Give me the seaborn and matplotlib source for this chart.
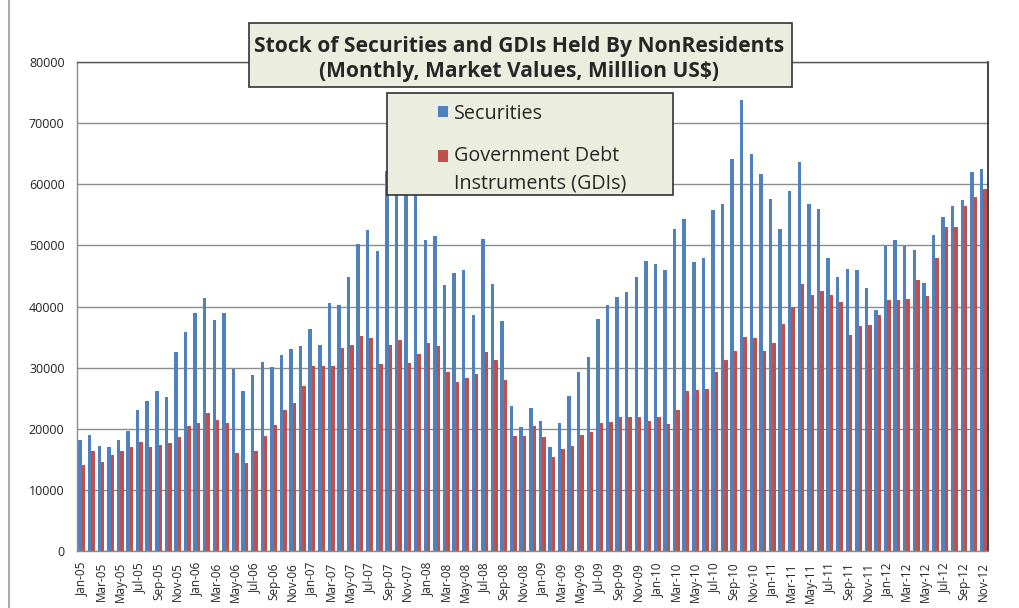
import numpy as np
import pandas as pd
import matplotlib
matplotlib.use("Agg")
import matplotlib.pyplot as plt
from matplotlib.patches import Rectangle
from matplotlib.lines import Line2D
from matplotlib.legend_handler import HandlerPatch
import seaborn as sns

# Month labels, Jan-05 .. Nov-12
months = pd.date_range("2005-01-01", "2012-11-01", freq="MS").strftime("%b-%y").tolist()

# Stock held by non-residents, million US$ (market values)
securities = [
    18100, 19000, 17200, 17000, 18100, 19600, 23000, 24600, 26100, 25200, 32600, 35900,
    38900, 41400, 37800, 38900, 29700, 26100, 28800, 31000, 30100, 32100, 33000, 33500,
    36300, 33700, 40600, 40300, 44900, 50300, 52500, 49000, 62100, 61000, 60000, 60500,
    50800, 51600, 43500, 45400, 45900, 38600, 51100, 43700, 37700, 23700, 20300, 23400,
    21200, 17000, 20900, 25400, 29300, 31800, 37900, 40300, 41600, 42300, 44900, 47400,
    47000, 45900, 52600, 54300, 47300, 47900, 55800, 56800, 64100, 73800, 64900, 61700,
    57600, 52700, 58900, 63600, 56800, 55900, 47900, 44800, 46100, 45900, 43000, 39500,
    49900, 50800, 49900, 49300, 43800, 51700, 54700, 56400, 57400, 62000, 62500,
]
gdis = [
    14100, 16400, 14600, 15700, 16400, 17000, 17900, 17000, 17400, 17700, 18600, 20500,
    21000, 22600, 21500, 21000, 16000, 14400, 16300, 18800, 20600, 23000, 24200, 27000,
    30300, 30300, 30300, 33200, 33700, 35200, 34900, 30600, 33700, 34600, 30800, 32300,
    34000, 33500, 29300, 27700, 28300, 29000, 32600, 31200, 27900, 18800, 18800, 20400,
    18600, 15400, 16700, 17200, 18900, 19400, 20900, 21100, 22000, 21900, 21900, 21200,
    22000, 20800, 23000, 26100, 26300, 26500, 29300, 31300, 32800, 35000, 34800, 32800,
    34100, 37200, 39900, 43700, 41900, 42600, 41900, 40700, 35400, 36800, 37000, 38600,
    41100, 41100, 41300, 44400, 41700, 47900, 53000, 53000, 56400, 57900, 59200,
]
series_names = ["Securities", "Government Debt\nInstruments (GDIs)"]
yticks = list(range(0, 80001, 10000))

df = pd.DataFrame({
    "month": months * 2,
    "value": securities + gdis,
    "series": [series_names[0]] * len(months) + [series_names[1]] * len(months),
})

BLUE = "#4F81BD"
RED = "#C0504D"
BOX = "#EBEEDF"
W, H = 1019, 608
LEG_FS = 14.2
LEG_LS = 1.45

sns.set_style("white")
plt.rcParams["font.family"] = ["Open Sans", "DejaVu Sans"]

fig = plt.figure(figsize=(W / 100, H / 100), dpi=100)
fig.patch.set_facecolor("white")
ax = fig.add_axes([77 / W, (H - 551) / H, 911 / W, 489 / H])

sns.barplot(data=df, x="month", y="value", hue="series", order=months,
            hue_order=series_names, palette=[BLUE, RED], saturation=1,
            width=0.72, linewidth=0, ax=ax)

handles, labels = ax.get_legend_handles_labels()
ax.get_legend().remove()

ax.set_xlim(-0.5, len(months) - 0.5)
ax.set_ylim(0, 80000)
ax.set_xlabel("")
ax.set_ylabel("")

# y axis
ax.set_yticks(yticks)
ax.set_yticklabels([str(v) for v in yticks], fontsize=9, color="#222222")
ax.yaxis.grid(True, color="#8C8C8C", lw=1)
ax.set_axisbelow(True)
ax.tick_params(axis="y", length=5, width=1, color="#8C8C8C", direction="out", pad=4)

# x axis: labels on every other month, ticks between categories
ax.set_xticks(range(0, len(months), 2))
ax.set_xticklabels(months[::2], rotation=90, fontsize=8.5, color="#222222")
ax.set_xticks(np.arange(-0.5, len(months), 1), minor=True)
ax.tick_params(axis="x", which="major", length=0, pad=8)
ax.tick_params(axis="x", which="minor", length=5, width=1, color="#8C8C8C", direction="out")

for side, col in [("left", "#8C8C8C"), ("bottom", "#8C8C8C"), ("top", "#555555"), ("right", "#222222")]:
    ax.spines[side].set_visible(True)
    ax.spines[side].set_color(col)
    ax.spines[side].set_linewidth(1.2 if side == "right" else 1)

# chart-area border on the left
fig.add_artist(Line2D([9 / W, 9 / W], [0, 1], color="#AAAAAA", lw=1.5))

# title box
fig.add_artist(Rectangle((249 / W, 1 - 87 / H), (792 - 249) / W, (87 - 23) / H,
                         facecolor=BOX, edgecolor="#333333", lw=1.2, zorder=3))
fig.text(519 / W, 1 - 59 / H,
         "Stock of Securities and GDIs Held By NonResidents\n(Monthly, Market Values, Milllion US$)",
         ha="center", va="center", fontsize=15.1, fontweight="bold", linespacing=1.3, zorder=4)


# legend swatch sits level with the first line of its label
def top_square(legend, orig_handle, xdescent, ydescent, width, height, fontsize):
    lines = orig_handle.get_label().count("\n")
    shift = lines * fontsize * 0.5 * LEG_LS * 1.0
    return Rectangle((-xdescent, -ydescent + shift), width, height)


fig.add_artist(Rectangle((387 / W, 1 - 195 / H), (673 - 387) / W, (195 - 93) / H,
                         facecolor=BOX, edgecolor="#333333", lw=1.2, zorder=3))
leg = fig.legend(handles, labels, loc="upper left", bbox_to_anchor=(424 / W, 1 - 90 / H),
                 frameon=False, fontsize=LEG_FS, handlelength=0.5, handleheight=0.5,
                 handletextpad=0.3, labelspacing=1.15, borderpad=0.2,
                 handler_map={h: HandlerPatch(patch_func=top_square) for h in handles})
for t in leg.get_texts():
    t.set_linespacing(LEG_LS)
leg.set_zorder(4)

fig.savefig("out.png", dpi=100, facecolor="white")
